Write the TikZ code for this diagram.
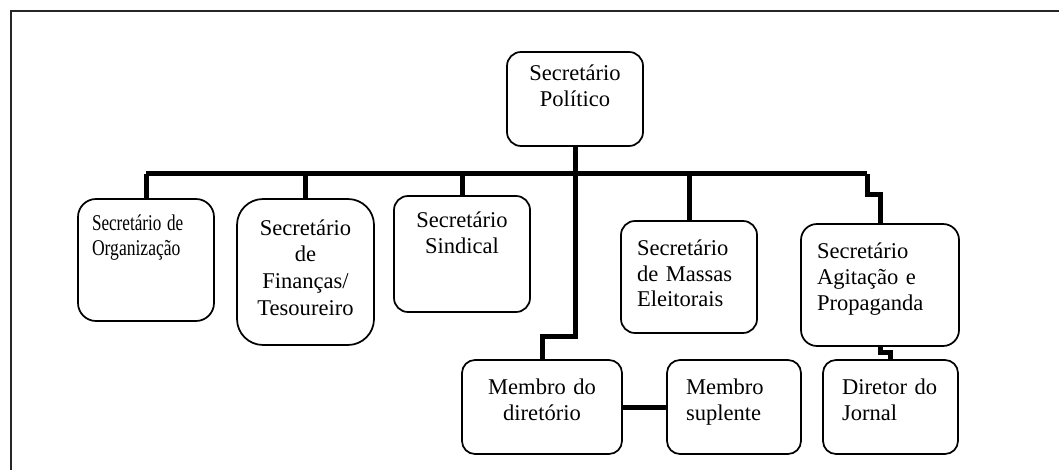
\documentclass[tikz,border=0pt]{standalone}
\usepackage{fontspec}
\setmainfont{Liberation Serif}
\usepackage{graphicx}
\begin{document}
\begin{tikzpicture}[x=0.75pt,y=-0.75pt,
  box/.style={draw=black, line width=1.3pt, inner sep=0pt, outer sep=0pt},
  conn/.style={draw=black, line width=3.75pt, line cap=butt, line join=miter},
  link/.style={draw=black, line width=3.75pt},
  txt/.style={inner sep=0pt, outer sep=0pt, font=\fontsize{16.9}{19.5}\selectfont},
  ]
\useasboundingbox (0,0) rectangle (1059,470);
\clip (0,0) rectangle (1059,470);
% outer frame (cropped on right and bottom)
\draw[line width=1.5pt, color=black!85] (10.5,480) -- (10.5,11) -- (1070,11);

\newcommand{\bx}[6]{%
  \node[box, rounded corners=#6*0.75pt,
        minimum width={(#4-#2)*0.75pt}, minimum height={(#5-#3)*0.75pt}]
        (#1) at ({(#2+#4)/2},{(#3+#5)/2}) {};}

\bx{pol}{507}{52}{643}{146}{14}
\bx{org}{78}{199}{214}{321}{18}
\bx{fin}{237}{199}{374}{345}{26}
\bx{sin}{394}{196}{530}{312}{14}
\bx{mas}{621}{221}{757}{333}{14}
\bx{agi}{801}{224}{959}{346}{16}
\bx{md}{462}{360}{622}{454}{13}
\bx{ms}{667}{360}{801}{454}{13}
\bx{dir}{823}{360}{958}{454}{13}

% texts
\node[txt, text width=130pt, align=center, anchor=base] (tpol) at (575,81) {Secretário\\Político};
\node[txt, text width=120pt, align=left, anchor=base west] (torg) at (92,231)
  {\scalebox{0.76}[1]{Secretário de}\\[-1pt]\scalebox{0.78}[1]{Organização}};
\node[txt, text width=120pt, align=center, anchor=base] (tfin) at (305.5,235) {Secretário\\[0.5pt]de\\[0.5pt]Finanças/\\[0.5pt]Tesoureiro};
\node[txt, text width=120pt, align=center, anchor=base] (tsin) at (462,228) {Secretário\\Sindical};
\node[txt, text width=120pt, align=left, anchor=base west] (tmas) at (637,255) {Secretário\\de Massas\\Eleitorais};
\node[txt, text width=130pt, align=left, anchor=base west] (tagi) at (817,258) {Secretário\\Agitação e\\Propaganda};
\node[txt, text width=140pt, align=center, anchor=base] (tmd) at (542,394) {Membro do\\diretório};
\node[txt, text width=110pt, align=left, anchor=base west] (tms) at (686,394) {Membro\\suplente};
\node[txt, text width=110pt, align=left, anchor=base west] (tdir) at (842,394) {Diretor do\\Jornal};

% connectors
\coordinate (busL) at (146,174);
\coordinate (busR) at (867,174);
\coordinate (stemJ) at (575,336);
\coordinate (agiJ) at (867,195);
\coordinate (dirJ) at (880,352);

\draw[conn] (busL) -- (busR);
\draw[conn] (pol.south) -- (stemJ) -| (md.north);
\draw[conn] (org.north) -- (org.north |- busL);
\draw[conn] (fin.north) -- (fin.north |- busL);
\draw[conn] (sin.north) -- (sin.north |- busL);
\draw[conn] (mas.north) -- (mas.north |- busL);
\draw[conn] (busR) -- (agiJ) -| (agi.north);
\draw[conn] (agi.south) -- (dirJ) -| (dir.north);
\draw[link] (md.east) -- (ms.west);
\end{tikzpicture}
\end{document}
